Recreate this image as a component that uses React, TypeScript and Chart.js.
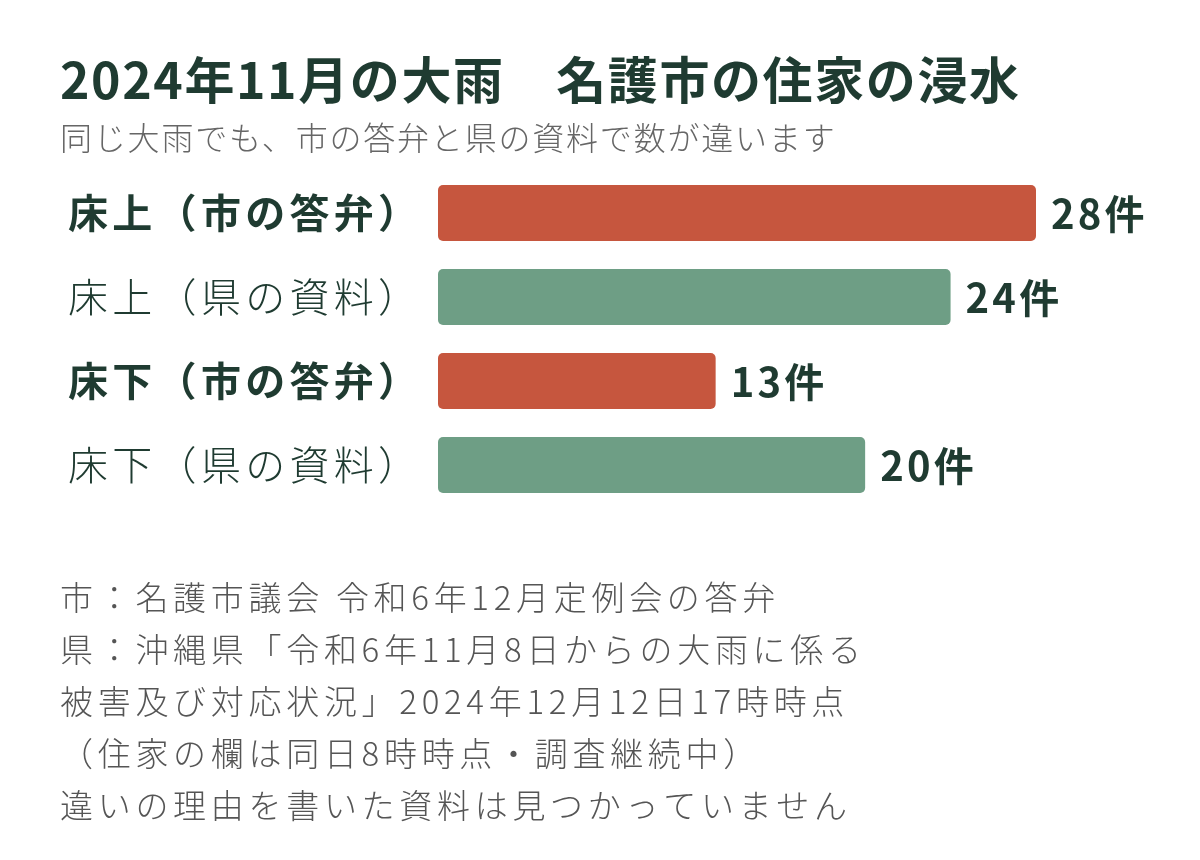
import React, { useEffect, useRef } from "react";
import { Chart, registerables } from "chart.js";

Chart.register(...registerables);

const titleText = "2024年11月の大雨　名護市の住家の浸水";
const subtitleText = "同じ大雨でも、市の答弁と県の資料で数が違います";
const categories = ["床上（市の答弁）", "床上（県の資料）", "床下（市の答弁）", "床下（県の資料）"];
const values = [28, 24, 13, 20];
const sources = ["市", "県", "市", "県"];
const unit = "件";
const footerLines = [
  "市：名護市議会 令和6年12月定例会の答弁",
  "県：沖縄県「令和6年11月8日からの大雨に係る",
  "被害及び対応状況」2024年12月12日17時時点",
  "（住家の欄は同日8時時点・調査継続中）",
  "違いの理由を書いた資料は見つかっていません",
];

const FONT = "'Noto Sans CJK JP', 'Noto Sans', sans-serif";
const DARK = "#1f3b31";
const RED = "#c6563e";
const GREEN = "#6e9e85";

const textPlugin = {
  id: "textPlugin",
  beforeDraw(chart: any) {
    chart.ctx.letterSpacing = "4.3px";
  },
  afterDraw(chart: any) {
    const ctx = chart.ctx;
    ctx.save();
    ctx.textBaseline = "middle";
    ctx.textAlign = "left";
    ctx.fillStyle = DARK;
    ctx.letterSpacing = "1.6px";
    ctx.font = `bold 50px ${FONT}`;
    ctx.fillText(titleText, 60, 80);
    ctx.fillStyle = "#666666";
    ctx.letterSpacing = "1.8px";
    ctx.font = `300 32px ${FONT}`;
    ctx.fillText(subtitleText, 60, 138);

    // value labels
    const meta = chart.getDatasetMeta(0);
    ctx.fillStyle = DARK;
    ctx.letterSpacing = "3.2px";
    ctx.font = `bold 40px ${FONT}`;
    meta.data.forEach((bar: any, i: number) => {
      ctx.fillText(values[i] + unit, bar.x + 15, bar.y + 1);
    });

    ctx.fillStyle = "#555555";
    ctx.letterSpacing = "4.7px";
    ctx.font = `300 33px ${FONT}`;
    footerLines.forEach((l, i) => {
      ctx.fillText(l, 60, 597 + i * 52);
    });
    ctx.restore();
    ctx.letterSpacing = "0px";
  },
};

export default function App() {
  const ref = useRef<HTMLCanvasElement>(null);
  useEffect(() => {
    const chart = new Chart(ref.current!, {
      type: "bar",
      data: {
        labels: categories,
        datasets: [
          {
            data: values,
            backgroundColor: sources.map((s) => (s === "市" ? RED : GREEN)),
            borderRadius: 5,
            borderSkipped: false,
            categoryPercentage: 1,
            barPercentage: 56 / 84,
          },
        ],
      },
      options: {
        indexAxis: "y",
        animation: false,
        responsive: false,
        maintainAspectRatio: false,
        layout: { padding: { top: 171, bottom: 353, left: 68, right: 164 } },
        plugins: { legend: { display: false }, tooltip: { enabled: false }, title: { display: false } },
        scales: {
          x: { display: false, min: 0, max: 28 },
          y: {
            grid: { display: false },
            border: { display: false },
            ticks: {
              crossAlign: "far",
              padding: 0,
              color: DARK,
              font: (c: any) => ({
                family: FONT,
                size: 40,
                weight: sources[c.index] === "市" ? "bold" : "300",
              }),
            },
            afterFit: (s: any) => {
              s.width = 438 - 68;
            },
          },
        },
      },
      plugins: [textPlugin],
    });
    return () => chart.destroy();
  }, []);
  return (
    <div style={{ position: "fixed", left: 0, top: 0, width: 1200, height: 860, background: "#fff" }}>
      <canvas ref={ref} width={1200} height={860} style={{ width: 1200, height: 860 }} />
    </div>
  );
}
